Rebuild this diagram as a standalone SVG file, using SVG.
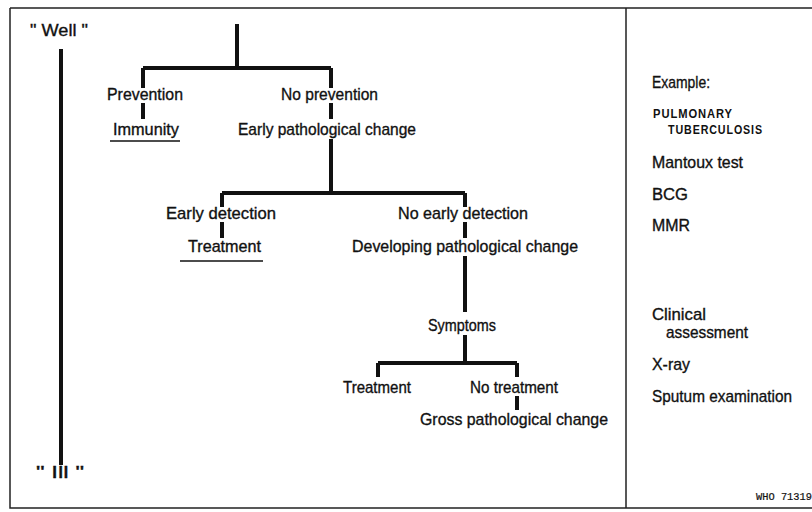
<svg xmlns="http://www.w3.org/2000/svg" width="812" height="512" viewBox="0 0 812 512">
<style>
text{font-family:"Liberation Sans",Arial,sans-serif;font-size:17px;fill:#111;stroke:#111;stroke-width:0.35;}
.sm{font-size:12px;font-weight:bold;letter-spacing:1px;stroke-width:0;}
.mono{font-family:"Liberation Mono",monospace;font-size:10px;stroke-width:0.2;}
.tree{stroke:#111;stroke-width:4;fill:none;}
.frame{stroke:#222;stroke-width:1.5;fill:none;}
.ul{stroke:#111;stroke-width:1.5;}
</style>
<rect width="812" height="512" fill="#fff"/>
<g id="frame">
<path class="frame" d="M10,8 H812 M10,8 V508 H812 M626,8 V508"/>
</g>
<g id="connectors">
<path class="tree" d="M61,49 V465"/>
<path class="tree" d="M237,24 V68 M143,68 H331 M143,68 V88 M331,68 V88 M143,103 V119 M331,103 V119 M331,139 V193"/>
<path class="tree" d="M222,193 H465 M222,193 V207 M465,193 V207 M222,222 V238 M465,222 V238 M465,256 V312 M465,335 V363"/>
<path class="tree" d="M378,363 H517 M378,363 V377 M517,363 V377 M517,396 V410"/>
</g>
<g id="well"><text x="30" y="36" textLength="58" lengthAdjust="spacingAndGlyphs">" Well "</text></g>
<g id="ill"><text x="36" y="478" textLength="48" lengthAdjust="spacingAndGlyphs">" Ill "</text></g>
<g id="prevention"><text x="107" y="100" textLength="76" lengthAdjust="spacingAndGlyphs">Prevention</text></g>
<g id="no-prevention"><text x="281" y="100" textLength="97" lengthAdjust="spacingAndGlyphs">No prevention</text></g>
<g id="immunity"><text x="113" y="135" textLength="66" lengthAdjust="spacingAndGlyphs">Immunity</text><line class="ul" x1="110" y1="141" x2="180" y2="141"/></g>
<g id="early-change"><text x="238" y="135" textLength="178" lengthAdjust="spacingAndGlyphs">Early pathological change</text></g>
<g id="early-detection"><text x="166" y="219" textLength="110" lengthAdjust="spacingAndGlyphs">Early detection</text></g>
<g id="no-early-detection"><text x="398" y="219" textLength="130" lengthAdjust="spacingAndGlyphs">No early detection</text></g>
<g id="treatment1"><text x="188" y="252" textLength="73" lengthAdjust="spacingAndGlyphs">Treatment</text><line class="ul" x1="180" y1="261" x2="263" y2="261"/></g>
<g id="developing"><text x="352" y="252" textLength="226" lengthAdjust="spacingAndGlyphs">Developing pathological change</text></g>
<g id="symptoms"><text x="428" y="331" textLength="68" lengthAdjust="spacingAndGlyphs">Symptoms</text></g>
<g id="treatment2"><text x="343" y="393" textLength="68" lengthAdjust="spacingAndGlyphs">Treatment</text></g>
<g id="no-treatment"><text x="470" y="393" textLength="88" lengthAdjust="spacingAndGlyphs">No treatment</text></g>
<g id="gross"><text x="420" y="425" textLength="188" lengthAdjust="spacingAndGlyphs">Gross pathological change</text></g>
<g id="example">
<text x="652" y="88" textLength="58" lengthAdjust="spacingAndGlyphs">Example:</text>
<text class="sm" x="653" y="118" textLength="80" lengthAdjust="spacingAndGlyphs">PULMONARY</text>
<text class="sm" x="668" y="134" textLength="95" lengthAdjust="spacingAndGlyphs">TUBERCULOSIS</text>
<text x="652" y="168" textLength="91" lengthAdjust="spacingAndGlyphs">Mantoux test</text>
<text x="652" y="200" textLength="36" lengthAdjust="spacingAndGlyphs">BCG</text>
<text x="652" y="231" textLength="38" lengthAdjust="spacingAndGlyphs">MMR</text>
<text x="652" y="320" textLength="54" lengthAdjust="spacingAndGlyphs">Clinical</text>
<text x="666" y="338" textLength="82" lengthAdjust="spacingAndGlyphs">assessment</text>
<text x="652" y="370" textLength="38" lengthAdjust="spacingAndGlyphs">X-ray</text>
<text x="652" y="402" textLength="140" lengthAdjust="spacingAndGlyphs">Sputum examination</text>
<text class="mono" x="756" y="500" textLength="56" lengthAdjust="spacingAndGlyphs">WHO 71319</text>
</g>
</svg>
